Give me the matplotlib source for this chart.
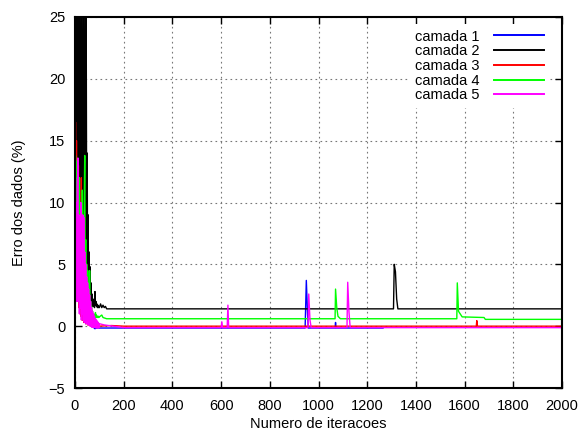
import matplotlib
matplotlib.use("Agg")
import matplotlib.pyplot as plt

plt.rcParams['font.family'] = ['Liberation Sans', 'DejaVu Sans']

# ---- data ----
early_x = list(range(0, 102, 2))

c1_early = [0.5, 20, 6, 18, 4, 15, 3, 12, 2, 10, 1.5, 9, 1, 8, 0.8, 7, 0.5, 6, 0.4, 5.5,
            0.3, 5.8, 0.2, 6.5, 0.3, 4, 6.8, 3, 0.2, 2, 0.1, 1.5, 0, 1, 0, 0.6, -0.1, 0.4,
            -0.1, 0.3, -0.2, 0.2, -0.2, 0.1, -0.15, 0, -0.15, 0, -0.15, -0.1, -0.15]
c1_late_x = [120, 945, 950, 955, 958, 1068, 1070, 1072, 1265]
c1_late_y = [-0.15, -0.15, 3.7, 1.0, -0.15, -0.15, 0.3, -0.15, -0.15]

c2_early = [1.0, 22, 8, 27, 12, 30, 6, 26, 14, 28, 9, 24, 18, 29, 7, 23, 11, 27, 5, 22,
            10, 26, 4, 25, 8, 14, 3, 9, 2.5, 6, 2, 4.8, 1.8, 3.5, 1.6, 2.6, 1.6, 2.2,
            1.6, 1.9, 1.5, 2.8, 1.7, 2.0, 1.6, 1.8, 1.5, 1.7, 1.5, 1.6, 1.5]
c2_late_x = [105, 110, 115, 120, 125, 130, 1308, 1311, 1316, 1321, 1326, 2000]
c2_late_y = [1.8, 1.5, 1.7, 1.5, 1.6, 1.4, 1.4, 5.0, 4.4, 2.2, 1.4, 1.4]

c3_early = [0.5, 16.5, 5, 15, 3, 12, 2, 13, 1.5, 10, 1, 9, 0.8, 12, 0.5, 7, 0.5, 6, 0.3, 5,
            0.3, 4, 0.2, 3, 0.2, 2.5, 0.1, 2, 0.1, 1.5, 0.1, 1.2, 0, 1, 0, 0.8, 0, 0.6,
            0, 0.5, 0, 0.4, 0, 0.3, 0, 0.2, 0, 0.1, 0, 0.05, 0]
c3_late_x = [150, 200, 1648, 1650, 1653, 2000]
c3_late_y = [0.05, 0.0, 0.0, 0.45, 0.0, 0.0]

c4_early = [0.5, 13.8, 4, 12, 6, 13.4, 3, 11, 5, 12, 2, 10, 4, 9, 2, 11, 3, 8, 2, 10,
            13.8, 3, 7, 2, 5, 1.5, 4.5, 1.2, 3.5, 1, 4.5, 0.9, 2, 0.8, 1.6, 0.8, 1.2, 0.7,
            1.0, 0.8, 0.9, 0.7, 1.1, 0.7, 0.9, 0.7, 0.8, 0.7, 0.8, 0.7, 0.75]
c4_late_x = [110, 115, 130, 1068, 1070, 1075, 1080, 1090, 1568, 1570, 1575, 1590, 1680, 1685, 2000]
c4_late_y = [0.9, 0.7, 0.6, 0.6, 3.0, 1.5, 0.8, 0.6, 0.6, 3.5, 1.2, 0.75, 0.7, 0.55, 0.55]

c5_early = [0.5, 12, 3, 10, 2, 11, 13.6, 2, 9, 1, 8, 1.5, 10, 0.5, 7, 1, 9, 0.5, 8.8, 0.3,
            6, 0.5, 5, 0.2, 4, 0.3, 3.5, 0.1, 3, 0.1, 2.5, 0, 2, 0, 1.5, -0.1, 1.2, -0.1,
            1, -0.1, 0.8, -0.1, 0.6, -0.15, 0.5, -0.15, 0.4, -0.15, 0.3, -0.15, 0.2]
c5_late_x = [120, 200, 600, 603, 606, 625, 628, 631, 957, 960, 965, 970, 1117, 1120, 1125, 1130, 2000]
c5_late_y = [0.1, -0.12, -0.12, 0.35, -0.12, -0.12, 1.7, -0.12, -0.12, 2.6, 0.5, -0.12, -0.12, 3.55, 1.2, -0.12, -0.12]

labels = ['camada 1', 'camada 2', 'camada 3', 'camada 4', 'camada 5']
colors = ['#0000ff', '#000000', '#ff0000', '#00ff00', '#ff00ff']
x_ticks = [0, 200, 400, 600, 800, 1000, 1200, 1400, 1600, 1800, 2000]
y_ticks = [-5, 0, 5, 10, 15, 20, 25]

series = [(c1_early, c1_late_x, c1_late_y), (c2_early, c2_late_x, c2_late_y),
          (c3_early, c3_late_x, c3_late_y), (c4_early, c4_late_x, c4_late_y),
          (c5_early, c5_late_x, c5_late_y)]

fig = plt.figure(figsize=(5.82, 4.34), dpi=100)
ax = fig.add_axes([75/582, 1-388/434, (562-75)/582, (388-17)/434])

for (ey, lx, ly), lab, col in zip(series, labels, colors):
    ax.plot(early_x + lx, ey + ly, color=col, lw=1.0, label=lab)

ax.set_xlim(0, 2000)
ax.set_ylim(-5, 25)
ax.set_xticks(x_ticks)
ax.set_yticks(y_ticks)
ax.tick_params(direction='in', length=5, width=1, top=True, right=True,
               labelsize=10.5)
ax.tick_params(axis='x', pad=8)
ax.tick_params(axis='y', pad=7)
for s in ax.spines.values():
    s.set_linewidth(1.5)
ax.grid(True, linestyle=(0, (1.5, 3)), color='#777777', lw=0.8)
ax.set_axisbelow(True)
ax.set_xlabel('Numero de iteracoes', fontsize=10.5, labelpad=3)
ax.set_ylabel('Erro dos dados (%)', fontsize=10.5, labelpad=16)

leg = ax.legend(loc='upper right', bbox_to_anchor=(0.974, 0.982), frameon=True,
                fancybox=False, edgecolor='none', facecolor='white', framealpha=1,
                borderpad=0.4, markerfirst=False, handlelength=3.4, labelspacing=0.05,
                fontsize=10.5, borderaxespad=0, handletextpad=1.0)
for h in leg.get_lines():
    h.set_linewidth(1.4)

fig.savefig('out.png', dpi=100)
